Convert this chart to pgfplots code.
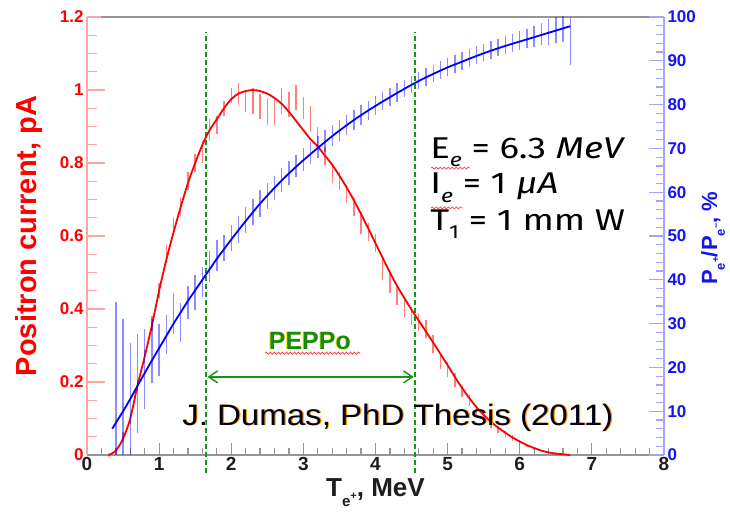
\documentclass[border=0pt]{standalone}
\usepackage{fontspec}
\setmainfont{Liberation Sans}
\newfontfamily\fira{Fira Sans}
\usepackage{pgfplots}
\usepackage{pgfplotstable}
\pgfplotsset{compat=1.18}
\usetikzlibrary{arrows.meta,decorations.pathmorphing}
\definecolor{axgray}{RGB}{150,150,150}
\definecolor{lred}{RGB}{255,165,165}
\definecolor{lblue}{RGB}{165,165,255}
\definecolor{tblue}{RGB}{20,20,240}
\definecolor{ticklab}{RGB}{30,30,30}
\definecolor{pgreen}{RGB}{20,140,20}
\definecolor{dgreen}{RGB}{20,150,20}

\pgfplotstableread{
x y e
0.3 0.00 0.005
0.4 0.012 0.008
0.5 0.05 0.012
0.6 0.10 0.015
0.7 0.19 0.015
0.8 0.27 0.018
0.9 0.36 0.02
1.0 0.45 0.02
1.1 0.55 0.025
1.2 0.63 0.02
1.3 0.68 0.025
1.4 0.75 0.025
1.5 0.80 0.025
1.6 0.83 0.03
1.7 0.89 0.03
1.8 0.905 0.025
1.9 0.95 0.02
2.0 0.985 0.02
2.1 0.99 0.03
2.2 0.97 0.03
2.3 0.97 0.035
2.4 0.955 0.035
2.5 0.94 0.035
2.6 0.94 0.035
2.7 0.97 0.035
2.8 0.96 0.035
2.9 0.98 0.035
3.0 0.95 0.03
3.1 0.92 0.035
3.2 0.87 0.03
3.3 0.82 0.025
3.4 0.77 0.025
3.5 0.75 0.025
3.6 0.715 0.025
3.7 0.68 0.025
3.8 0.635 0.03
3.9 0.61 0.025
4.0 0.58 0.025
4.1 0.51 0.03
4.2 0.47 0.025
4.3 0.435 0.025
4.4 0.40 0.025
4.5 0.38 0.025
4.6 0.365 0.025
4.7 0.345 0.025
4.8 0.305 0.025
4.9 0.255 0.02
5.0 0.235 0.02
5.1 0.205 0.02
5.2 0.175 0.015
5.3 0.15 0.015
5.4 0.125 0.012
5.5 0.105 0.012
5.6 0.085 0.01
5.7 0.07 0.01
5.8 0.058 0.008
5.9 0.047 0.008
6.0 0.036 0.006
6.1 0.026 0.005
6.2 0.019 0.004
6.3 0.012 0.003
6.4 0.007 0.003
6.5 0.004 0.002
6.6 0.002 0.002
}\reddata

\pgfplotstableread{
x y
0.30 0.000
0.40 0.012
0.50 0.045
0.60 0.100
0.70 0.190
0.80 0.270
0.90 0.355
1.00 0.450
1.10 0.535
1.20 0.610
1.30 0.680
1.40 0.745
1.50 0.800
1.60 0.850
1.70 0.890
1.80 0.920
1.90 0.950
2.00 0.975
2.10 0.990
2.20 0.997
2.30 1.000
2.40 0.997
2.50 0.990
2.60 0.978
2.70 0.962
2.80 0.940
2.90 0.915
3.00 0.890
3.10 0.865
3.20 0.845
3.30 0.820
3.40 0.795
3.50 0.765
3.60 0.733
3.70 0.698
3.80 0.660
3.90 0.621
4.00 0.580
4.10 0.540
4.20 0.500
4.30 0.463
4.40 0.430
4.50 0.398
4.60 0.368
4.70 0.338
4.80 0.308
4.90 0.277
5.00 0.246
5.10 0.214
5.20 0.184
5.30 0.156
5.40 0.131
5.50 0.110
5.60 0.091
5.70 0.075
5.80 0.061
5.90 0.048
6.00 0.037
6.10 0.027
6.20 0.019
6.30 0.012
6.40 0.007
6.50 0.004
6.60 0.002
6.70 0.000
}\redfit

\pgfplotstableread{
x y e
0.4 17.5 17.5
0.5 15.5 15.5
0.6 12.8 12.8
0.7 16.3 11.3
0.8 19.6 9.2
0.9 23.7 7.3
1.0 24 6
1.1 27.5 4.5
1.2 32.3 4.7
1.3 30.2 4.5
1.4 34.8 3.8
1.5 37 4
1.6 39.5 3.5
1.7 43 3.5
1.8 45.5 3.5
1.9 47.3 3
2.0 49.6 3
2.1 51.5 3
2.2 53.6 3
2.3 55.5 3
2.4 57.4 3
2.5 59.2 3
2.6 61 2.8
2.7 62.8 2.8
2.8 64.4 2.8
2.9 66 2.6
3.0 67.5 2.6
3.1 69 2.5
3.2 70.3 2.5
3.3 71.6 2.5
3.4 72.9 2.4
3.5 74.1 2.4
3.6 75.3 2.3
3.7 76.5 2.3
3.8 77.6 2.2
3.9 78.7 2.2
4.0 79.8 2.2
4.1 80.8 2.1
4.2 81.8 2.1
4.3 82.8 2.1
4.4 83.7 2
4.5 84.6 2
4.6 85.5 2
4.7 86.3 2
4.8 87.1 2
4.9 87.9 2
5.0 88.6 2
5.1 89.3 2
5.2 90 2
5.3 90.6 2
5.4 91.3 2
5.5 91.9 2
5.6 92.5 2
5.7 93 2
5.8 93.6 2
5.9 94.1 2
6.0 94.6 2.2
6.1 95.1 2.2
6.2 95.6 2.4
6.3 96.1 2.6
6.4 96.6 3
6.5 97 3
6.6 97.3 3
6.7 94.5 5.5
}\bluedata

\pgfplotstableread{
x y
0.35 6.0
0.50 10.0
0.60 12.8
0.70 15.8
0.80 18.7
0.90 21.6
1.00 24.4
1.10 27.2
1.20 30.0
1.30 32.6
1.40 35.2
1.50 37.6
1.60 40.0
1.70 42.4
1.80 44.8
1.90 47.0
2.00 49.2
2.20 53.4
2.40 57.4
2.60 61.0
2.80 64.3
3.00 67.3
3.20 70.1
3.40 72.8
3.60 75.3
3.80 77.6
4.00 79.7
4.20 81.7
4.40 83.6
4.60 85.4
4.80 87.0
5.00 88.5
5.20 89.8
5.40 91.1
5.60 92.3
5.80 93.4
6.00 94.4
6.20 95.4
6.40 96.4
6.60 97.4
6.70 97.9
}\bluefit

\newcommand\sub[1]{\raisebox{-0.28em}{\fontsize{19}{19}\selectfont #1}}
\newcommand\tline[1]{\scalebox{1.22}[1]{\fira\fontsize{30}{32}\selectfont #1}}

\begin{document}
\begin{tikzpicture}
\path[use as bounding box] (-87pt,-57pt) rectangle (643pt,455pt);
\begin{axis}[
  scale only axis, width=577pt, height=438pt,
  at={(0,0)}, anchor=south west,
  xmin=0, xmax=8, ymin=0, ymax=1.2,
  axis x line*=bottom, axis y line*=left,
  x axis line style={draw=axgray, line width=1.2pt, -},
  y axis line style={draw=lred, line width=1.2pt, -},
  tick align=inside,
  xtick={0,1,2,3,4,5,6,7,8}, minor x tick num=4,
  ytick={0,0.2,0.4,0.6,0.8,1,1.2}, minor y tick num=3,
  xtick style={draw=axgray, line width=1.2pt, /pgfplots/major tick length=12pt, /pgfplots/minor tick length=7pt},
  ytick style={draw=lred, line width=1.2pt, /pgfplots/major tick length=18pt, /pgfplots/minor tick length=10pt},
  /pgf/number format/assume math mode=true,
  xticklabel style={font=\fontsize{19}{19}\selectfont\bfseries, text=ticklab, yshift=1pt},
  yticklabel style={font=\fontsize{17}{17}\selectfont\bfseries, text=red},
  clip=false,
]
% frame top
\draw[lred, line width=1.2pt] (rel axis cs:0,1) -- (rel axis cs:0.025,1);
\draw[axgray, line width=1.2pt] (rel axis cs:0.025,1) -- (rel axis cs:0.975,1);
\draw[lblue, line width=1.2pt] (rel axis cs:0.975,1) -- (rel axis cs:1,1);
\draw[lblue, line width=1.2pt] (rel axis cs:0.975,0) -- (rel axis cs:1,0);
% green dashed lines and arrow
\draw[draw=dgreen, line width=1.7pt, dash pattern=on 5pt off 3pt] (axis cs:4.55,-0.05) -- (axis cs:4.55,1.16);
\draw[draw=dgreen, line width=1.7pt, dash pattern=on 5pt off 3pt] (axis cs:1.65,-0.05) -- (axis cs:1.65,1.16);
\draw[draw=dgreen, line width=1.4pt, {Straight Barb[length=9pt,width=12pt]}-{Straight Barb[length=9pt,width=12pt]}] (axis cs:1.67,0.214) -- (axis cs:4.53,0.214);
% red data
\addplot[draw=none, mark=none, forget plot, error bars/.cd, y dir=both, y explicit, error mark=none,
  error bar style={draw=red, line width=1.4pt, opacity=0.5}]
  table[x=x, y=y, y error=e] {\reddata};
\addplot[red, line width=1.8pt, smooth] table[x=x, y=y] {\redfit};
\node[text=yellow!90!orange, font=\fontsize{25}{25}\selectfont\bfseries] at ([xshift=-1pt,yshift=0.5pt]axis cs:3.09,0.312) {PEPPo};
\node[text=pgreen, font=\fontsize{25}{25}\selectfont\bfseries] at (axis cs:3.09,0.312) {PEPPo};
\draw[red!80, line width=0.7pt, decorate, decoration={snake, amplitude=1.1pt, segment length=4pt}] (axis cs:2.47,0.279) -- (axis cs:3.79,0.279);
% J. Dumas
\node[anchor=base west, inner sep=0pt, text=orange!80!yellow] at ([xshift=1.2pt,yshift=-0.6pt]axis cs:1.318,0.082) {\scalebox{1.12}[1]{\fontsize{29.5}{30}\selectfont J. Dumas, PhD Thesis (2011)}};
\node[anchor=base west, inner sep=0pt, text=black!90!blue] at (axis cs:1.318,0.082) {\scalebox{1.12}[1]{\fontsize{29.5}{30}\selectfont J. Dumas, PhD Thesis (2011)}};
% text block
\node[anchor=base west, inner sep=0pt] at (axis cs:4.757,0.8137) {\tline{E\sub{\itshape e} = 6.3 \textit{MeV}}};
\node[anchor=base west, inner sep=0pt] at (axis cs:4.757,0.7151) {\tline{I\sub{\itshape e} = 1 \textit{μA}}};
\node[anchor=base west, inner sep=0pt] at (axis cs:4.757,0.6164) {\tline{T\sub{1} = 1 mm W}};
\draw[red!80, line width=0.6pt, decorate, decoration={snake, amplitude=1pt, segment length=4pt}] (axis cs:4.77,0.786) -- (axis cs:5.31,0.786);
\draw[red!80, line width=0.6pt, decorate, decoration={snake, amplitude=1pt, segment length=4pt}] (axis cs:4.77,0.677) -- (axis cs:5.21,0.677);
% axis labels
\node[rotate=90, text=red, font=\fontsize{29}{29}\selectfont\bfseries] at (rel axis cs:-0.1005,0.5) {Positron current, pA};
\node[text=ticklab, font=\fontsize{26}{26}\selectfont\bfseries] at (rel axis cs:0.5,-0.086) {T\raisebox{-0.38em}{\fontsize{15}{15}\selectfont e\raisebox{0.45em}{\fontsize{11}{11}\selectfont +}}, MeV};
\node[rotate=90, text=tblue, font=\fontsize{22}{22}\selectfont\bfseries] at (rel axis cs:1.085,0.495) {P\raisebox{-0.35em}{\fontsize{13}{13}\selectfont e\raisebox{0.45em}{\fontsize{10}{10}\selectfont +}}/P\raisebox{-0.35em}{\fontsize{13}{13}\selectfont e\raisebox{0.45em}{\fontsize{10}{10}\selectfont --}}, \%};
\end{axis}
\begin{axis}[
  scale only axis, width=577pt, height=438pt,
  at={(0,0)}, anchor=south west,
  xmin=0, xmax=8, ymin=0, ymax=100,
  hide x axis, axis y line*=right,
  y axis line style={draw=lblue, line width=1.2pt, -},
  tick align=inside,
  ytick={0,10,20,30,40,50,60,70,80,90,100}, minor y tick num=4,
  ytick style={draw=lblue, line width=1.2pt, /pgfplots/major tick length=15pt, /pgfplots/minor tick length=8pt},
  /pgf/number format/assume math mode=true,
  yticklabel style={font=\fontsize{17}{17}\selectfont\bfseries, text=tblue},
  clip=false,
]
\addplot[draw=none, mark=none, forget plot, error bars/.cd, y dir=both, y explicit, error mark=none,
  error bar style={draw=blue, line width=1.4pt, opacity=0.45}]
  table[x=x, y=y, y error=e] {\bluedata};
\addplot[blue, line width=1.8pt, smooth] table[x=x, y=y] {\bluefit};
\end{axis}
\end{tikzpicture}
\end{document}
